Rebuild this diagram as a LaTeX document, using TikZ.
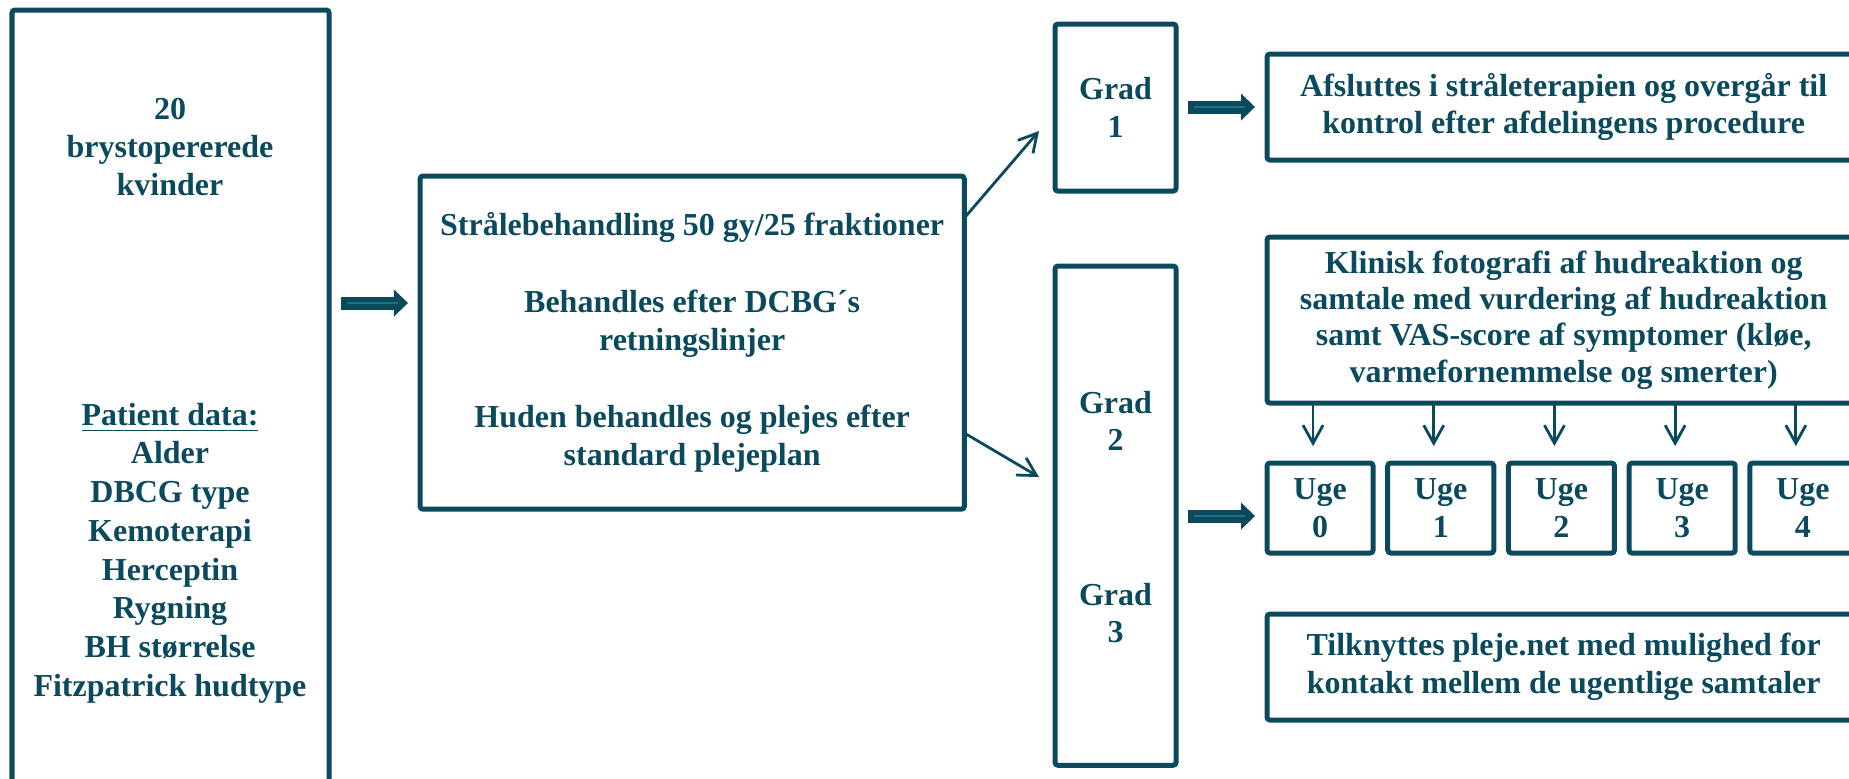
\documentclass[tikz,border=0pt]{standalone}
\usepackage{fontspec}
\setmainfont{Liberation Serif}
\usetikzlibrary{arrows.meta,calc}

\definecolor{fcteal}{HTML}{0B4A5D}
\definecolor{fclight}{HTML}{1F6F85}

\tikzset{
  fcfont/.style={text=fcteal, align=center, font=\fontsize{9.1}{10.7}\selectfont\bfseries},
  fcbox/.style={fcfont, draw=fcteal, line width=0.05cm, rounded corners=0.03cm,
    anchor=north west, inner sep=0pt, outer sep=0pt},
  fatarrow/.style={draw=fcteal, line width=0.13cm,
    -{Triangle[length=0.14cm,width=0.27cm,line width=0pt]},
    postaction={draw=fclight, line width=0.02cm, -, shorten <=0.06cm, shorten >=0.1cm}},
  thinarrow/.style={draw=fcteal, line width=0.028cm, -{Straight Barb[length=0.18cm,width=0.2cm]}}
}

\begin{document}
\begin{tikzpicture}[x=0.01cm, y=-0.01cm]
\useasboundingbox (0,0) rectangle (1849,778);
\clip (0,0) rectangle (1849,778);

% patients
\node[fcbox, minimum width=3.17cm, minimum height=8cm] (pat) at (12,10) {};
\node[fcfont] (pattop) at (170,147) {20\\brystopererede\\kvinder};
\node[fcfont, font=\fontsize{9.1}{11}\selectfont\bfseries] (patdata) at (170,553)
  {\underline{Patient data:}\\Alder\\DBCG type\\Kemoterapi\\Herceptin\\Rygning\\BH størrelse\\Fitzpatrick hudtype};

% treatment
\node[fcbox, font=\fontsize{9.1}{10.9}\selectfont\bfseries, minimum width=5.44cm, minimum height=3.33cm] (mid) at (420,176)
  {Strålebehandling 50 gy/25 fraktioner\\[10.9pt]Behandles efter DCBG´s\\retningslinjer\\[10.9pt]Huden behandles og plejes efter\\standard plejeplan};

% grades
\node[fcbox, minimum width=1.21cm, minimum height=1.67cm] (g1) at (1055,24) {Grad\\1};
\node[fcbox, minimum width=1.21cm, minimum height=4.99cm] (g23) at (1055,266) {};
\node[fcfont] (g2) at (1115.5,421) {Grad\\2};
\node[fcfont] (g3) at (1115.5,613) {Grad\\3};

% right column
\node[fcbox, minimum width=5.93cm, minimum height=1.06cm] (afs) at (1267,54)
  {Afsluttes i stråleterapien og overgår til\\kontrol efter afdelingens procedure};
\node[fcbox, font=\fontsize{9.1}{10.3}\selectfont\bfseries, minimum width=5.93cm, minimum height=1.66cm] (klin) at (1267,237)
  {Klinisk fotografi af hudreaktion og\\samtale med vurdering af hudreaktion\\samt VAS-score af symptomer (kløe,\\varmefornemmelse og smerter)};
\node[fcbox, minimum width=5.93cm, minimum height=1.06cm] (tilk) at (1267,614)
  {Tilknyttes pleje.net med mulighed for\\kontakt mellem de ugentlige samtaler};

\foreach \i in {0,...,4}{
  \node[fcbox, minimum width=1.06cm, minimum height=0.9cm] (uge\i) at ({1267+120.7*\i},463) {Uge\\\i};
  \draw[thinarrow] ($(uge\i.north |- klin.south)+(-7,0)$) -- ++(0,43);
}

% connectors
\coordinate (tip1) at (1039,131);
\coordinate (tip2) at (1039,477);
\draw[fatarrow] ($(pat.east |- 0,303)+(12,0)$) -- ($(mid.west |- 0,303)+(-12,0)$);
\draw[thinarrow] (mid.east |- 0,218) -- (tip1);
\draw[thinarrow] (mid.east |- 0,433) -- (tip2);
\draw[fatarrow] ($(g1.east |- 0,107)+(12,0)$) -- ($(afs.west |- 0,107)+(-12,0)$);
\draw[fatarrow] ($(g23.east |- 0,516)+(12,0)$) -- ($(uge0.west |- 0,516)+(-12,0)$);
\end{tikzpicture}
\end{document}
